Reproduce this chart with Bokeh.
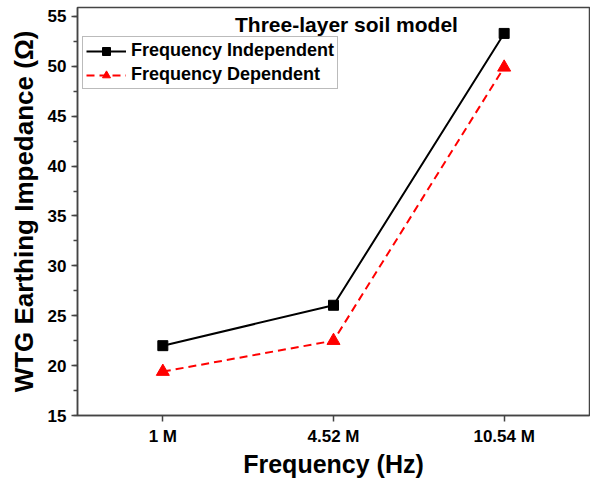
from bokeh.plotting import figure
from bokeh.models import FixedTicker, SingleIntervalTicker, Range1d, Label, Legend, LegendItem
from bokeh.embed import file_html
from bokeh.resources import INLINE

categories = ["1 M", "4.52 M", "10.54 M"]
freq_independent = [22.0, 26.05, 53.3]
freq_dependent = [19.4, 22.5, 49.9]

xs = list(range(len(categories)))
FONT = "Liberation Sans"

p = figure(width=590, height=480, output_backend="svg", toolbar_location=None,
           x_range=Range1d(-0.5, 2.5), y_range=Range1d(15, 55.9),
           min_border_left=77, min_border_right=1, min_border_top=7, min_border_bottom=65)
p.grid.visible = False
p.outline_line_color = "#444444"
p.outline_line_width = 1.5
p.background_fill_color = "white"
p.border_fill_color = "white"

l1 = p.line(xs, freq_independent, line_color="black", line_width=2)
s1 = p.scatter(xs, freq_independent, marker="square", size=10, fill_color="black", line_color="black")
l2 = p.line(xs, freq_dependent, line_color="red", line_width=2, line_dash="8 5")
s2 = p.scatter(xs, freq_dependent, marker="triangle", size=13, fill_color="red", line_color="red")

legend = Legend(items=[LegendItem(label="Frequency Independent", renderers=[l1, s1]),
                       LegendItem(label="Frequency Dependent", renderers=[l2, s2])],
                location=(5, 326), border_line_color="#777777", border_line_width=1,
                label_text_font=FONT, label_text_font_style="bold", label_text_font_size="18px",
                label_text_color="black",
                glyph_width=40, glyph_height=20, label_standoff=5, spacing=3,
                padding=3, margin=0, background_fill_alpha=1, label_height=20)
p.add_layout(legend, "center")

p.xaxis.ticker = FixedTicker(ticks=xs)
p.xaxis.major_label_overrides = {i: c for i, c in enumerate(categories)}
p.yaxis.ticker = SingleIntervalTicker(interval=5, num_minor_ticks=2)

for ax in (p.xaxis, p.yaxis):
    ax.axis_line_color = "#444444"
    ax.axis_line_width = 1.5
    ax.major_tick_line_color = "#444444"
    ax.minor_tick_line_color = "#444444"
    ax.major_tick_line_width = 1.5
    ax.minor_tick_line_width = 1.5
    ax.major_tick_out = 6
    ax.major_tick_in = 0
    ax.minor_tick_out = 4
    ax.minor_tick_in = 0
    ax.major_label_text_font = FONT
    ax.major_label_text_font_style = "bold"
    ax.major_label_text_font_size = "17px"
    ax.major_label_text_color = "black"
    ax.axis_label_text_font = FONT
    ax.axis_label_text_font_style = "bold"
    ax.axis_label_text_color = "black"

p.xaxis.axis_label_text_font_size = "25px"
p.yaxis.axis_label_text_font_size = "26px"
p.xaxis.minor_tick_line_color = None
p.xaxis.major_label_standoff = 5
p.yaxis.major_label_standoff = 5
p.xaxis.axis_label = "Frequency (Hz)"
p.yaxis.axis_label = "WTG Earthing Impedance (\u03a9)"
p.xaxis.axis_label_standoff = 1
p.yaxis.axis_label_standoff = 6

title = Label(x=269, y=391, x_units="screen", y_units="screen", text="Three-layer soil model",
              text_font=FONT, text_font_style="bold", text_font_size="21px",
              text_align="center", text_baseline="middle", text_color="black")
p.add_layout(title)

open("out.html", "w").write(file_html(p, INLINE))
